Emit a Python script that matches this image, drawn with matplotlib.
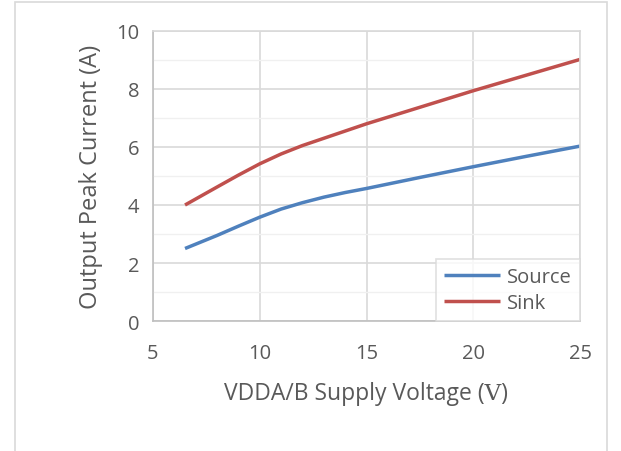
import matplotlib.pyplot as plt
from matplotlib.patches import Rectangle

# datos
voltaje = [6.5, 8, 9, 10, 11, 12, 13, 14, 15, 17.5, 20, 22.5, 25]
source = [2.5, 2.95, 3.27, 3.58, 3.86, 4.08, 4.27, 4.43, 4.57, 4.95, 5.32, 5.68, 6.03]
sink = [4.0, 4.62, 5.03, 5.42, 5.76, 6.05, 6.3, 6.55, 6.8, 7.37, 7.94, 8.48, 9.02]
x_ticks = [5, 10, 15, 20, 25]
y_ticks = [0, 2, 4, 6, 8, 10]

plt.rcParams['font.family'] = ['Open Sans', 'DejaVu Serif', 'Noto Sans CJK SC', 'DejaVu Sans']
color_texto = "#595959"

fig = plt.figure(figsize=(6.21, 4.52), dpi=100)
fig.patches.append(Rectangle((15 / 621, -0.1), 592 / 621, 1.094, transform=fig.transFigure,
                             fill=False, edgecolor="#d9d9d9", linewidth=1.2))

ax = fig.add_axes([153 / 621, 1 - 322 / 452, 427 / 621, 290 / 452])

ax.plot(voltaje, source, color="#4F81BD", linewidth=2.5, label="Source",
        solid_capstyle="butt", solid_joinstyle="round")
ax.plot(voltaje, sink, color="#C0504D", linewidth=2.5, label="Sink",
        solid_capstyle="butt", solid_joinstyle="round")

ax.set_xlim(5, 25)
ax.set_ylim(0, 10)
ax.set_xticks(x_ticks)
ax.set_yticks(y_ticks)
ax.set_yticks([1, 3, 5, 7, 9], minor=True)
ax.grid(True, which="major", color="#d9d9d9", linewidth=1.2)
ax.grid(True, which="minor", axis="y", color="#f0f0f0", linewidth=1.0)
ax.set_axisbelow(True)
ax.tick_params(which="both", length=0, labelsize=14.5, labelcolor=color_texto)
ax.tick_params(axis="x", pad=16)
ax.tick_params(axis="y", pad=10)

for lado in ["top", "right"]:
    ax.spines[lado].set_color("#d9d9d9")
for lado in ["left", "bottom"]:
    ax.spines[lado].set_color("#bfbfbf")
for s in ax.spines.values():
    s.set_linewidth(1.2)

ax.set_xlabel("VDDA/B Supply Voltage (Ⅴ)", fontsize=16.5, color=color_texto, labelpad=13)
ax.set_ylabel("Output Peak Current (A)", fontsize=17, color=color_texto, labelpad=9)

leg = ax.legend(loc="lower right", fontsize=14.5, frameon=True, fancybox=False,
                borderaxespad=0, handlelength=2.8, handletextpad=0.35,
                borderpad=0.4, labelspacing=0.3)
leg.get_frame().set_edgecolor("#d9d9d9")
leg.get_frame().set_linewidth(1.2)
for t in leg.get_texts():
    t.set_color(color_texto)

fig.savefig("out.png", dpi=100)
